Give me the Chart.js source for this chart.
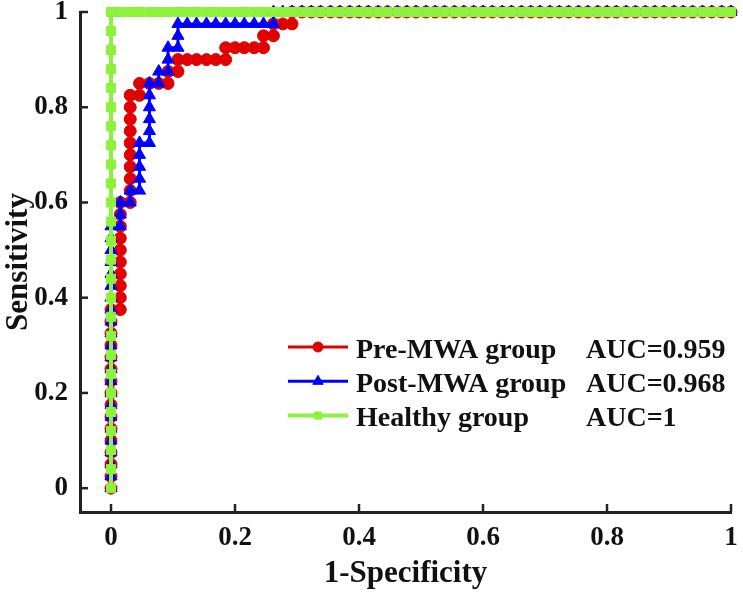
<!DOCTYPE html>
<html>
<head>
<meta charset="utf-8">
<script src="https://cdn.jsdelivr.net/npm/chart.js@4.4.1/dist/chart.umd.min.js"></script>
<style>
  body { margin: 0; background: #fff; }
  #roc { display: block; }
</style>
</head>
<body>
<canvas id="roc" width="743" height="593"></canvas>
<script>
const seriesNames = ["Pre-MWA group", "Post-MWA group", "Healthy group"];
const aucLabels = ["AUC=0.959", "AUC=0.968", "AUC=1"];
const xTickValues = [0, 0.2, 0.4, 0.6, 0.8, 1];
const yTickValues = [0, 0.2, 0.4, 0.6, 0.8, 1];

// [1-specificity, sensitivity]
const preMwa = [
  [0, 0], [0, 0.025], [0, 0.05], [0, 0.075], [0, 0.1], [0, 0.125], [0, 0.15], [0, 0.175],
  [0, 0.2], [0, 0.225], [0, 0.25], [0, 0.275], [0, 0.3], [0, 0.325], [0, 0.35], [0, 0.375],
  [0.015, 0.375], [0.015, 0.4], [0.015, 0.425], [0.015, 0.45], [0.015, 0.475], [0.015, 0.5],
  [0.015, 0.525], [0.015, 0.55], [0.015, 0.575], [0.015, 0.6],
  [0.031, 0.6], [0.031, 0.625], [0.031, 0.65], [0.031, 0.675], [0.031, 0.7], [0.031, 0.725],
  [0.031, 0.75], [0.031, 0.775], [0.031, 0.8], [0.031, 0.825],
  [0.046, 0.825], [0.046, 0.85], [0.062, 0.85], [0.077, 0.85], [0.092, 0.85], [0.092, 0.875],
  [0.108, 0.875], [0.108, 0.9], [0.123, 0.9], [0.138, 0.9], [0.154, 0.9], [0.169, 0.9],
  [0.185, 0.9], [0.185, 0.925], [0.2, 0.925], [0.215, 0.925], [0.231, 0.925], [0.246, 0.925],
  [0.246, 0.95], [0.262, 0.95], [0.262, 0.975], [0.277, 0.975], [0.292, 0.975], [0.292, 1],
  [0.308, 1], [0.323, 1], [0.338, 1], [0.354, 1], [0.369, 1], [0.385, 1], [0.4, 1], [0.415, 1],
  [0.431, 1], [0.446, 1], [0.462, 1], [0.477, 1], [0.492, 1], [0.508, 1], [0.523, 1], [0.538, 1],
  [0.554, 1], [0.569, 1], [0.585, 1], [0.6, 1], [0.615, 1], [0.631, 1], [0.646, 1], [0.662, 1],
  [0.677, 1], [0.692, 1], [0.708, 1], [0.723, 1], [0.738, 1], [0.754, 1], [0.769, 1], [0.785, 1],
  [0.8, 1], [0.815, 1], [0.831, 1], [0.846, 1], [0.862, 1], [0.877, 1], [0.892, 1], [0.908, 1],
  [0.923, 1], [0.938, 1], [0.954, 1], [0.969, 1], [0.985, 1], [1, 1],
];

const postMwa = [
  [0, 0], [0, 0.025], [0, 0.05], [0, 0.075], [0, 0.1], [0, 0.125], [0, 0.15], [0, 0.175],
  [0, 0.2], [0, 0.225], [0, 0.25], [0, 0.275], [0, 0.3], [0, 0.325], [0, 0.35], [0, 0.375],
  [0, 0.4], [0, 0.425], [0, 0.45], [0, 0.475], [0, 0.5], [0, 0.525], [0, 0.55],
  [0.015, 0.55], [0.015, 0.575], [0.015, 0.6], [0.031, 0.6], [0.031, 0.625],
  [0.046, 0.625], [0.046, 0.65], [0.046, 0.675], [0.046, 0.7], [0.046, 0.725],
  [0.062, 0.725], [0.062, 0.75], [0.062, 0.775], [0.062, 0.8], [0.062, 0.825], [0.062, 0.85],
  [0.077, 0.85], [0.077, 0.875], [0.092, 0.875], [0.092, 0.9], [0.092, 0.925],
  [0.108, 0.925], [0.108, 0.95], [0.108, 0.975],
  [0.123, 0.975], [0.138, 0.975], [0.154, 0.975], [0.169, 0.975], [0.185, 0.975], [0.2, 0.975],
  [0.215, 0.975], [0.231, 0.975], [0.246, 0.975], [0.262, 0.975], [0.262, 1],
  [0.277, 1], [0.292, 1], [0.308, 1], [0.323, 1], [0.338, 1], [0.354, 1], [0.369, 1], [0.385, 1],
  [0.4, 1], [0.415, 1], [0.431, 1], [0.446, 1], [0.462, 1], [0.477, 1], [0.492, 1], [0.508, 1],
  [0.523, 1], [0.538, 1], [0.554, 1], [0.569, 1], [0.585, 1], [0.6, 1], [0.615, 1], [0.631, 1],
  [0.646, 1], [0.662, 1], [0.677, 1], [0.692, 1], [0.708, 1], [0.723, 1], [0.738, 1], [0.754, 1],
  [0.769, 1], [0.785, 1], [0.8, 1], [0.815, 1], [0.831, 1], [0.846, 1], [0.862, 1], [0.877, 1],
  [0.892, 1], [0.908, 1], [0.923, 1], [0.938, 1], [0.954, 1], [0.969, 1], [0.985, 1], [1, 1],
];

const healthy = [
  [0, 0], [0, 0.04], [0, 0.08], [0, 0.12], [0, 0.16], [0, 0.2], [0, 0.24], [0, 0.28], [0, 0.32],
  [0, 0.36], [0, 0.4], [0, 0.44], [0, 0.48], [0, 0.52], [0, 0.56], [0, 0.6], [0, 0.64], [0, 0.68],
  [0, 0.72], [0, 0.76], [0, 0.8], [0, 0.84], [0, 0.88], [0, 0.92], [0, 0.96], [0, 1],
  [0.015, 1], [0.031, 1], [0.046, 1], [0.062, 1], [0.077, 1], [0.092, 1], [0.108, 1], [0.123, 1],
  [0.138, 1], [0.154, 1], [0.169, 1], [0.185, 1], [0.2, 1], [0.215, 1], [0.231, 1], [0.246, 1],
  [0.262, 1], [0.277, 1], [0.292, 1], [0.308, 1], [0.323, 1], [0.338, 1], [0.354, 1], [0.369, 1],
  [0.385, 1], [0.4, 1], [0.415, 1], [0.431, 1], [0.446, 1], [0.462, 1], [0.477, 1], [0.492, 1],
  [0.508, 1], [0.523, 1], [0.538, 1], [0.554, 1], [0.569, 1], [0.585, 1], [0.6, 1], [0.615, 1],
  [0.631, 1], [0.646, 1], [0.662, 1], [0.677, 1], [0.692, 1], [0.708, 1], [0.723, 1], [0.738, 1],
  [0.754, 1], [0.769, 1], [0.785, 1], [0.8, 1], [0.815, 1], [0.831, 1], [0.846, 1], [0.862, 1],
  [0.877, 1], [0.892, 1], [0.908, 1], [0.923, 1], [0.938, 1], [0.954, 1], [0.969, 1], [0.985, 1],
  [1, 1],
];

const FONT = "'Liberation Serif', 'Times New Roman', serif";
const axisColor = "#222";
const colors = ["#e00000", "#0000ff", "#8cf23c"];
const markers = ["circle", "triangle", "rect"];

function toPoints(rows) {
  return rows.map((r) => ({ x: r[0], y: r[1] }));
}

// MATLAB style ticks pointing into the plot
const inwardTicks = {
  id: "inwardTicks",
  beforeDatasetsDraw(chart) {
    const { ctx, chartArea, scales } = chart;
    ctx.save();
    ctx.strokeStyle = axisColor;
    ctx.lineWidth = 2.5;
    xTickValues.forEach((v) => {
      const px = scales.x.getPixelForValue(v);
      ctx.beginPath();
      ctx.moveTo(px, chartArea.bottom);
      ctx.lineTo(px, chartArea.bottom - 8);
      ctx.stroke();
    });
    yTickValues.forEach((v) => {
      const py = scales.y.getPixelForValue(v);
      ctx.beginPath();
      ctx.moveTo(chartArea.left, py);
      ctx.lineTo(chartArea.left + 8, py);
      ctx.stroke();
    });
    ctx.restore();
  },
};

const rocLegend = {
  id: "rocLegend",
  afterDatasetsDraw(chart) {
    const ctx = chart.ctx;
    ctx.save();
    seriesNames.forEach((name, i) => {
      const y = 347 + i * 34.3;
      ctx.strokeStyle = colors[i];
      ctx.lineWidth = i === 2 ? 4 : 3;
      ctx.beginPath();
      ctx.moveTo(288, y);
      ctx.lineTo(348, y);
      ctx.stroke();
      ctx.fillStyle = colors[i];
      ctx.lineWidth = 1;
      Chart.helpers.drawPoint(
        ctx,
        { pointStyle: markers[i], radius: [5, 6, 5][i], borderWidth: 1, rotation: 0 },
        318,
        y
      );
      ctx.fillStyle = "#111";
      ctx.font = "bold 28px " + FONT;
      ctx.textBaseline = "alphabetic";
      ctx.textAlign = "left";
      ctx.fillText(name, 356, y + 10.5);
      ctx.fillText(aucLabels[i], 586, y + 10.5);
    });
    ctx.restore();
  },
};

const datasets = [preMwa, postMwa, healthy].map((rows, i) => ({
  label: seriesNames[i],
  data: toPoints(rows),
  showLine: true,
  borderColor: colors[i],
  backgroundColor: colors[i],
  borderWidth: i === 2 ? 4 : 3,
  pointStyle: markers[i],
  pointRadius: [6, 7, 6.4][i],
  pointBorderWidth: 1,
  pointBorderColor: colors[i],
  pointBackgroundColor: colors[i],
  order: 3 - i,
  clip: false,
}));

const tickFont = { family: FONT, size: 27, weight: "bold" };
const titleFont = { family: FONT, size: 31, weight: "bold" };

const rocChart = new Chart(document.getElementById("roc"), {
  type: "scatter",
  data: { datasets },
  options: {
    responsive: false,
    animation: false,
    layout: { padding: { top: 12, right: 12, left: 0, bottom: 0 } },
    plugins: {
      legend: { display: false },
      tooltip: { enabled: false },
    },
    scales: {
      x: {
        type: "linear",
        min: -0.05,
        max: 1,
        grid: { display: false, drawTicks: false },
        border: { display: true, color: axisColor, width: 3 },
        afterBuildTicks: (scale) => {
          scale.ticks = xTickValues.map((v) => ({ value: v }));
        },
        afterFit: (scale) => {
          scale.height = 81;
          scale.paddingLeft = 0;
          scale.paddingRight = 0;
        },
        ticks: {
          color: "#111",
          font: tickFont,
          padding: 10,
          maxRotation: 0,
          autoSkip: false,
          callback: (v) => String(v),
        },
        title: {
          display: true,
          text: "1-Specificity",
          color: "#111",
          font: titleFont,
          padding: 0,
        },
      },
      y: {
        type: "linear",
        min: -0.05,
        max: 1,
        grid: { display: false, drawTicks: false },
        border: { display: true, color: axisColor, width: 3 },
        afterBuildTicks: (scale) => {
          scale.ticks = yTickValues.map((v) => ({ value: v }));
        },
        afterFit: (scale) => {
          scale.width = 80;
          scale.paddingTop = 0;
          scale.paddingBottom = 0;
        },
        ticks: {
          color: "#111",
          font: tickFont,
          padding: 12,
          autoSkip: false,
          callback: (v) => String(v),
        },
        title: {
          display: true,
          text: "Sensitivity",
          color: "#111",
          font: titleFont,
          padding: 0,
        },
      },
    },
  },
  plugins: [inwardTicks, rocLegend],
});
</script>
</body>
</html>
